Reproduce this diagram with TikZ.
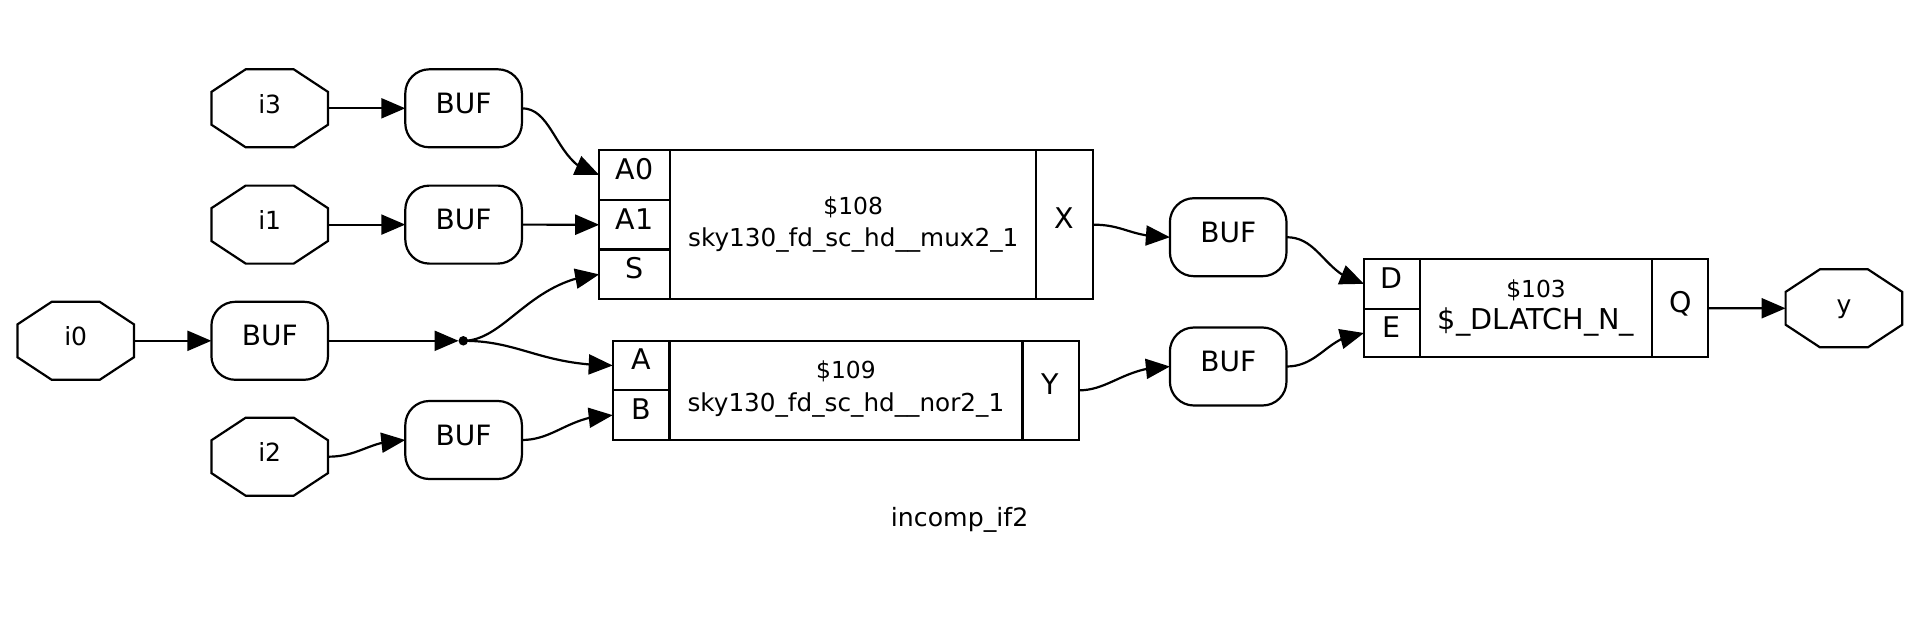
\documentclass[tikz,border=0pt]{standalone}
\usepackage{fontspec}
\setmainfont{DejaVu Sans}
\usetikzlibrary{arrows.meta,bending,calc}
\tikzset{
  x=1pt,y=-1pt,
  every node/.style={inner sep=0pt,outer sep=0pt,text=black},
  wire/.style={line width=2.2pt,draw=black,-{Triangle[length=24pt,width=20pt]}},
  lbl/.style={font=\fontsize{25}{30}\selectfont,text height=20pt,text depth=10pt},
  octbox/.style={lbl,minimum width=116.6pt,minimum height=78pt},
  octline/.style={line width=2.2pt,draw=black,line join=miter},
  bufbox/.style={draw=black,line width=2.2pt,rounded corners=24pt,minimum width=116.6pt,minimum height=78pt,
    font=\fontsize{28}{32}\selectfont,text height=20pt,text depth=10pt},
  fieldbox/.style={draw=black,line width=2.2pt},
  portbox/.style={fieldbox,font=\fontsize{28.5}{32}\selectfont,text height=20pt,text depth=11.5pt},
  bodybox/.style={fieldbox,align=center,font=\fontsize{24.7}{32}\selectfont},
  titlelbl/.style={font=\fontsize{25.2}{30}\selectfont,anchor=base},
  junction/.style={circle,fill=black,minimum size=9.5pt},
}
\newcommand{\octnode}[4]{%
  \node[octbox] (#1) at (#2,#3) {#4};
  \draw[octline]
    ($(#1.north west)+(34.3,0)$) -- ($(#1.north east)+(-34.3,0)$)
    -- ($(#1.north east)+(0,22.6)$) -- ($(#1.south east)+(0,-22.6)$)
    -- ($(#1.south east)+(-34.3,0)$) -- ($(#1.south west)+(34.3,0)$)
    -- ($(#1.south west)+(0,-22.6)$) -- ($(#1.north west)+(0,22.6)$) -- cycle;
}
% name, x-left, y-top, width, height, options, text
\newcommand{\field}[7]{%
  \node[#6,anchor=north west,minimum width=#4pt,minimum height=#5pt] (#1) at (#2,#3) {#7};
}
\begin{document}
\begin{tikzpicture}
\useasboundingbox (0,0) rectangle (1914,618);
% inputs
\octnode{i3}{269.7}{108.3}{i3}
\octnode{i1}{269.7}{224.6}{i1}
\octnode{i0}{75.7}{340.8}{i0}
\octnode{i2}{269.7}{456.7}{i2}
\octnode{y}{1843.9}{308.3}{y}
% buffers
\node[bufbox] (b3) at (463.6,108.3) {BUF};
\node[bufbox] (b1) at (463.6,224.6) {BUF};
\node[bufbox] (b0) at (269.7,340.8) {BUF};
\node[bufbox] (b2) at (463.6,440) {BUF};
\node[bufbox] (bx) at (1228.2,237.2) {BUF};
\node[bufbox] (by) at (1228.2,366.5) {BUF};
% mux
\field{muxA0}{599.2}{150}{71}{50}{portbox}{A0}
\field{muxA1}{599.2}{200}{71}{49.5}{portbox}{A1}
\field{muxS}{599.2}{249.5}{71}{49.8}{portbox}{S}
\field{muxB}{670.2}{150}{366.1}{149.3}{bodybox}{{\fontsize{23.4}{32}\selectfont\$108}\\[-0.5pt]sky130\_fd\_sc\_hd\_\_mux2\_1}
\field{muxX}{1036.3}{150}{56.4}{149.3}{portbox}{X}
% nor
\field{norA}{612.7}{340.7}{56.7}{49.6}{portbox}{A}
\field{norBp}{612.7}{390.3}{56.7}{49.7}{portbox}{B}
\field{norB}{669.4}{340.7}{353}{99.3}{bodybox}{{\fontsize{23.4}{32}\selectfont\$109}\\[1pt]sky130\_fd\_sc\_hd\_\_nor2\_1\rule[-9pt]{0pt}{0pt}}
\field{norY}{1022.4}{340.7}{56.4}{99.3}{portbox}{Y}
% latch
\field{latD}{1364}{259}{55.9}{49.7}{portbox}{D}
\field{latE}{1364}{308.7}{55.9}{48.6}{portbox}{E}
\field{latB}{1419.9}{259}{232.4}{98.3}{fieldbox,align=center}{\fontsize{23.4}{32}\selectfont\$103\\[6pt]\fontsize{28.7}{32}\selectfont\$\_DLATCH\_N\_}
\field{latQ}{1652.3}{259}{55.9}{98.3}{portbox}{Q}
% junction and title
\node[junction] (dot) at (463.3,340.8) {};
\node[titlelbl] (title) at (959.6,526) {incomp\_if2};
% connectors
\draw[wire] (i3.east) -- (b3.west);
\draw[wire] (i1.east) -- (b1.west);
\draw[wire] (i0.east) -- (b0.west);
\draw[wire] (i2.east) .. controls (360,456.7) and (370,440) .. (b2.west);
\draw[wire] (b0.east) -- (dot);
\draw[wire] (b3.east) .. controls (555,108.3) and (556,168) .. (muxA0.west);
\draw[wire] (b1.east) -- (muxA1.west);
\draw[wire] (dot.center) .. controls (505,340.8) and (530,280) .. (muxS.west);
\draw[wire] (dot.center) .. controls (520,340.8) and (540,365) .. (norA.west);
\draw[wire] (b2.east) .. controls (555,440) and (570,415) .. (norBp.west);
\draw[wire] (muxX.east) .. controls (1125,224.6) and (1130,237.2) .. (bx.west);
\draw[wire] (norY.east) .. controls (1110,390.3) and (1125,366.5) .. (by.west);
\draw[wire] (bx.east) .. controls (1320,237.2) and (1325,276) .. (latD.west);
\draw[wire] (by.east) .. controls (1320,366.5) and (1328,335) .. (latE.west);
\draw[wire] (latQ.east) -- (y.west);
\end{tikzpicture}
\end{document}
